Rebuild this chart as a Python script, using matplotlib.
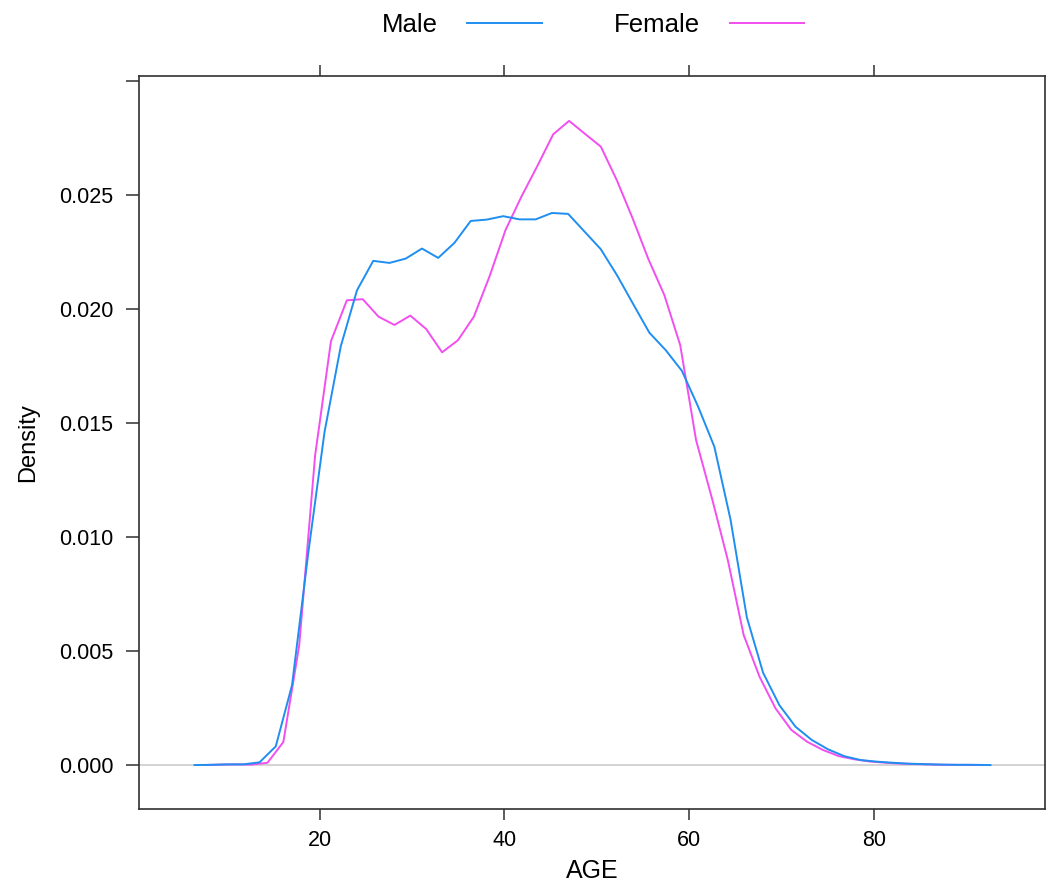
import matplotlib
matplotlib.use("Agg")
import matplotlib.pyplot as plt

plt.rcParams["font.family"] = ["Liberation Sans", "DejaVu Sans"]

# density estimates (50-point grids)
age_male = [6.42, 8.18, 9.94, 11.70, 13.46, 15.22, 16.98, 18.74, 20.50, 22.26,
            24.02, 25.78, 27.54, 29.30, 31.06, 32.82, 34.58, 36.34, 38.10, 39.86,
            41.62, 43.38, 45.14, 46.90, 48.66, 50.42, 52.18, 53.94, 55.70, 57.46,
            59.22, 60.98, 62.74, 64.50, 66.26, 68.02, 69.78, 71.54, 73.30, 75.06,
            76.82, 78.58, 80.34, 82.10, 83.86, 85.62, 87.38, 89.14, 90.90, 92.66]
dens_male = [0.0, 0.00001, 0.00003, 0.00003, 0.00012, 0.00082, 0.0035, 0.0093, 0.0146, 0.01836,
             0.02082, 0.02211, 0.02202, 0.02221, 0.02265, 0.02224, 0.0229, 0.02386, 0.02392, 0.02407,
             0.02393, 0.02393, 0.02421, 0.02417, 0.0234, 0.02263, 0.02149, 0.02022, 0.01896, 0.0182,
             0.01729, 0.01572, 0.01396, 0.01075, 0.00648, 0.00405, 0.00263, 0.00168, 0.0011, 0.00069,
             0.00039, 0.00022, 0.00015, 0.0001, 0.00006, 0.00004, 0.00002, 0.00001, 0.00001, 0.0]

age_female = [7.44, 9.16, 10.88, 12.60, 14.32, 16.04, 17.76, 19.48, 21.20, 22.92,
              24.64, 26.36, 28.08, 29.80, 31.52, 33.24, 34.96, 36.68, 38.40, 40.12,
              41.84, 43.56, 45.28, 47.00, 48.72, 50.44, 52.16, 53.88, 55.60, 57.32,
              59.04, 60.76, 62.48, 64.20, 65.92, 67.64, 69.36, 71.08, 72.80, 74.52,
              76.24, 77.96, 79.68, 81.40, 83.12, 84.84, 86.56, 88.28, 90.00, 91.72]
dens_female = [0.0, 0.00002, 0.00003, 0.00002, 0.0001, 0.00101, 0.00525, 0.01357, 0.01859, 0.02038,
               0.02043, 0.01966, 0.0193, 0.01971, 0.01912, 0.0181, 0.01863, 0.01966, 0.02145, 0.02347,
               0.02493, 0.02627, 0.02766, 0.02825, 0.02768, 0.02712, 0.02566, 0.02398, 0.02218, 0.02061,
               0.01842, 0.01425, 0.0117, 0.00899, 0.0057, 0.00387, 0.00249, 0.00154, 0.00102, 0.00066,
               0.00039, 0.00025, 0.00015, 0.0001, 0.00006, 0.00004, 0.00002, 0.00001, 0.00001, 0.0]

x_ticks = [20, 40, 60, 80]
y_ticks = [0.000, 0.005, 0.010, 0.015, 0.020, 0.025, 0.030]
y_labels = ["0.000", "0.005", "0.010", "0.015", "0.020", "0.025", ""]

W, H = 1046, 882
fig = plt.figure(figsize=(W / 100, H / 100), dpi=100)
ax = fig.add_axes([139 / W, 1 - 809.3 / H, (1045.3 - 139) / W, (809.3 - 75.7) / H])

ax.axhline(0, color="#cccccc", lw=1.2, zorder=1)
l1, = ax.plot(age_male, dens_male, color="#1f8ef1", lw=1.4, label="Male", zorder=3)
l2, = ax.plot(age_female, dens_female, color="#f24ef0", lw=1.4, label="Female", zorder=2)

ax.set_xlim(0.4, 98.6)
ax.set_ylim(-0.00194, 0.03023)

ax.set_xticks(x_ticks)
ax.set_yticks(y_ticks)
ax.set_yticklabels(y_labels)
ax.tick_params(axis="x", top=True, labeltop=False, length=8, width=1.1,
               color="#303030", labelsize=15.5, pad=7)
ax.tick_params(axis="y", right=False, length=9.4, width=1.1,
               color="#303030", labelsize=15.5, pad=9)
for s in ax.spines.values():
    s.set_color("#303030")
    s.set_linewidth(1.2)

ax.set_xlabel("AGE", fontsize=18, labelpad=6)
ax.set_ylabel("Density", fontsize=17, labelpad=14)

fig.legend(handles=[l1, l2], loc="center", bbox_to_anchor=(593 / W, 1 - 25 / H),
           ncol=2, frameon=False, markerfirst=False, fontsize=18.5,
           handlelength=2.9, handletextpad=1.15, columnspacing=2.8)

fig.savefig("out.png", dpi=100, facecolor="white")
